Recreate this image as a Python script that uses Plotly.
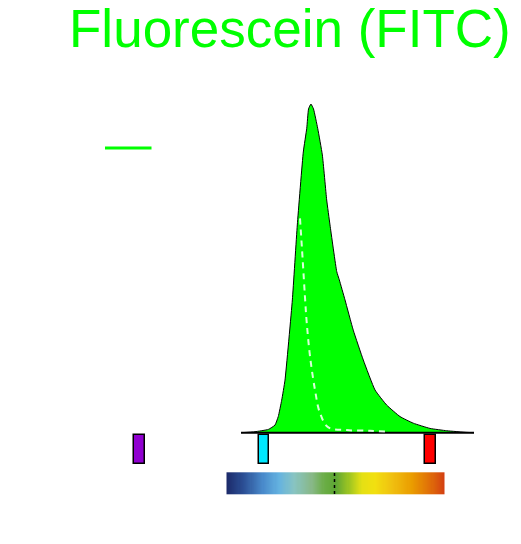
import numpy as np
import plotly.graph_objects as go

# ---- data ----
emission_wl = [472.7, 482.0, 490.9, 495.3, 497.5, 499.8, 502.0, 506.9, 510.2, 514.2,
               516.5, 517.7, 519.3, 521.0, 523.8, 526.9, 529.8, 532.0, 536.5, 538.2,
               542.0, 547.5, 554.2, 562.0, 569.8, 578.7, 587.5, 598.7, 609.8, 623.1, 628.0]
emission_int = [0.0, 0.003, 0.010, 0.023, 0.049, 0.099, 0.160, 0.404, 0.632, 0.854,
                0.926, 0.985, 1.0, 0.985, 0.926, 0.845, 0.708, 0.632, 0.490, 0.465,
                0.404, 0.312, 0.221, 0.130, 0.084, 0.049, 0.029, 0.013, 0.006, 0.001, 0.0]

dashed_wl = [512.0, 513.8, 515.3, 516.5, 518.7, 522.0, 525.3, 530.9, 543.1, 558.7, 569.8]
dashed_int = [0.652, 0.525, 0.414, 0.334, 0.232, 0.130, 0.060, 0.016, 0.008, 0.006, 0.003]

laser_wl = [405, 488, 599]
laser_names = ["405 nm", "488 nm", "599 nm"]

filter_range = [463, 608]
filter_center = 535

title_text = "Fluorescein (FITC)"

# ---- styles ----
GREEN = "#00ff00"
laser_colors = ["#9000d0", "#00e8ff", "#ff0000"]
spectrum_scale = [
    [0.00, "#1c2a6a"], [0.08, "#2c5096"], [0.17, "#4a8ccc"], [0.24, "#64b2e0"],
    [0.31, "#88c4c2"], [0.39, "#88b888"], [0.45, "#6aad45"], [0.50, "#5ea634"],
    [0.56, "#9cc422"], [0.62, "#e4e014"], [0.68, "#f2e010"], [0.76, "#f0c010"],
    [0.85, "#ea9c00"], [0.93, "#e07008"], [1.00, "#d44012"],
]

# pixel-based frame: 521x544, 1.5 px per nm, 488 nm at x=264 px
W, H = 521, 544
PX_PER_NM = 1.5
x_lo = 488 - 264 / PX_PER_NM
x_hi = 488 + (W - 264) / PX_PER_NM
base_px, scale_px = 432.7, 328.7
y_lo = (base_px - H) / scale_px
y_hi = base_px / scale_px

fig = go.Figure()

# emission spectrum (filled)
fig.add_trace(go.Scatter(
    x=emission_wl, y=emission_int, mode="lines", fill="toself", line_shape="spline",
    line_smoothing=0.4,
    fillcolor=GREEN, line=dict(color="black", width=1), hoverinfo="skip",
    showlegend=False))
# baseline
fig.add_trace(go.Scatter(
    x=[emission_wl[0], emission_wl[-1]], y=[0, 0], mode="lines",
    line=dict(color="black", width=2), showlegend=False, hoverinfo="skip"))
# dashed white curve
fig.add_trace(go.Scatter(
    x=dashed_wl, y=dashed_int, mode="lines", line_shape="spline",
    line=dict(color="rgba(255,255,255,0.85)", width=2, dash="6px,5px"),
    showlegend=False, hoverinfo="skip"))

# laser markers
bar_top = (base_px - 434.5) / scale_px
bar_bot = (base_px - 464) / scale_px
fig.add_trace(go.Bar(
    x=laser_wl, y=[bar_top - bar_bot] * len(laser_wl), base=[bar_bot] * len(laser_wl),
    width=[7.3] * len(laser_wl), marker=dict(color=laser_colors, line=dict(color="black", width=1.5)),
    text=laser_names, hoverinfo="text", textposition="none", showlegend=False))

# spectrum colour bar
ncol = 200
edges = np.linspace(filter_range[0], filter_range[1], ncol + 1)
centers = (edges[:-1] + edges[1:]) / 2
cb_top = (base_px - 472.3) / scale_px
cb_bot = (base_px - 494) / scale_px
fig.add_trace(go.Heatmap(
    x=edges, y=[cb_bot, cb_top], z=[centers], colorscale=spectrum_scale,
    zmin=filter_range[0], zmax=filter_range[1], showscale=False, hoverinfo="skip"))
fig.add_trace(go.Scatter(
    x=[filter_center, filter_center], y=[cb_bot, cb_top], mode="lines",
    line=dict(color="black", width=1.5, dash="dot"), showlegend=False, hoverinfo="skip"))

# legend key line
fig.add_shape(type="line", xref="paper", yref="paper",
              x0=105 / W, x1=151.5 / W, y0=1 - 148 / H, y1=1 - 148 / H,
              line=dict(color=GREEN, width=3))

fig.add_annotation(text=title_text, xref="paper", yref="paper",
                   x=290 / W, y=1 - 28.5 / H, xanchor="center", yanchor="middle",
                   showarrow=False,
                   font=dict(family="Liberation Sans, Arial, sans-serif", size=53, color=GREEN))

fig.update_xaxes(range=[x_lo, x_hi], visible=False, showgrid=False, zeroline=False, fixedrange=True)
fig.update_yaxes(range=[y_lo, y_hi], visible=False, showgrid=False, zeroline=False, fixedrange=True)
fig.update_layout(width=W, height=H, margin=dict(l=0, r=0, t=0, b=0),
                  paper_bgcolor="white", plot_bgcolor="white", autosize=False,
                  bargap=0, barmode="overlay")

fig.write_html("out.html", config={"displayModeBar": False},
               post_script="document.body.style.margin='0';")
